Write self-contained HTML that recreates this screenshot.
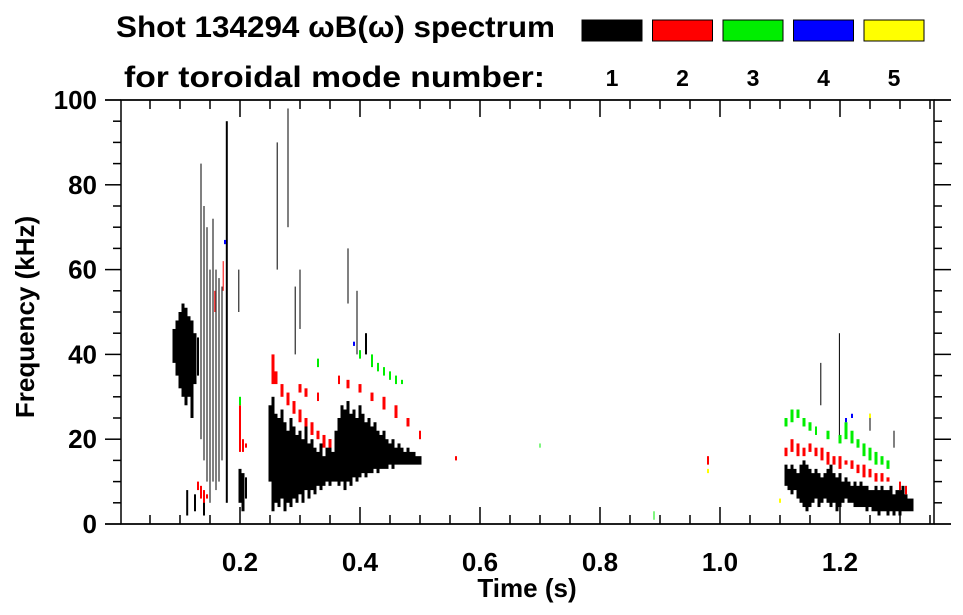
<!DOCTYPE html>
<html><head><meta charset="utf-8"><style>
body{margin:0;background:#fff;}
svg{display:block;font-family:"Liberation Sans",sans-serif;font-weight:bold;}
</style></head><body>
<svg id="chart" width="963" height="615" viewBox="0 0 963 615">
<g>
<text x="116" y="37" font-size="30" textLength="439" lengthAdjust="spacingAndGlyphs">Shot 134294 ωB(ω) spectrum</text>
<text x="124" y="87" font-size="30" textLength="421" lengthAdjust="spacingAndGlyphs">for toroidal mode number:</text>
</g>
<g id="legend"></g>
<g id="marks"></g>
<g id="axes"></g>
<text x="527" y="597" font-size="26" text-anchor="middle">Time (s)</text>
<text transform="translate(34,317) rotate(-90)" font-size="26" text-anchor="middle">Frequency (kHz)</text>
</svg>
<script>
const modeLabels=["1","2","3","4","5"];
const modeColors=["#000000","#ff0000","#00ee00","#0000ff","#ffff00"];
const xTicks=[0.2,0.4,0.6,0.8,1.0,1.2];
const xTickLabels=["0.2","0.4","0.6","0.8","1.0","1.2"];
const yTicks=[0,20,40,60,80,100];
// segments: [time s, fLow kHz, fHigh kHz, width px]
const mode1=[[0.090,38,46,3],[0.095,35,48,3],[0.100,32,50,3],[0.105,30,52,3],[0.110,28,51,3],[0.115,30,49,3],[0.120,25,48,3],[0.125,33,45,3],[0.130,35,44,2],
[0.135,20,85,1],[0.140,15,75,1],[0.145,10,70,1],[0.150,5,60,1],[0.155,10,72,1],[0.160,8,60,1],[0.165,10,58,1],[0.170,15,56,1],[0.178,5,95,2],[0.198,50,60,1],
[0.112,2,8,2],[0.125,3,7,2],[0.140,2,6,2],
[0.200,5,13,3],[0.205,3,12,3],[0.210,6,11,2],
[0.250,10,28,3],[0.255,3,30,3],[0.260,5,26,3],[0.265,4,25,3],[0.270,6,27,3],[0.275,3,24,3],[0.280,5,22,3],[0.285,4,25,3],[0.290,6,23,3],[0.295,5,21,3],[0.300,7,22,3],[0.305,5,20,3],[0.310,8,24,3],[0.315,6,19,3],[0.320,8,20,3],[0.325,7,18,3],[0.330,9,17,3],[0.335,8,19,3],[0.340,9,16,3],[0.345,10,18,3],[0.350,9,20,3],[0.355,10,17,3],[0.360,10,22,3],[0.365,9,25,3],[0.370,10,28,3],[0.375,8,27,3],[0.380,10,29,3],[0.385,9,26,3],[0.390,11,27,3],[0.395,10,25,3],[0.400,11,28,3],[0.405,12,26,3],[0.410,11,24,3],[0.415,12,25,3],[0.420,12,23,3],[0.425,13,24,3],[0.430,12,22,3],[0.435,13,21,3],[0.440,13,22,3],[0.445,13,20,3],[0.450,14,19,3],[0.455,13,20,3],[0.460,14,18,3],[0.465,14,19,3],[0.470,14,18,3],[0.475,14,17,3],[0.480,14,18,3],[0.485,14,17,3],[0.490,14,17,3],[0.495,14,16,3],[0.500,14,16,3],
[0.262,60,90,1],[0.280,70,98,1],[0.292,40,56,1],[0.300,46,60,1],[0.380,52,65,1],[0.395,40,55,1],[0.410,40,45,2],
[1.110,9,14,3],[1.115,8,13,3],[1.120,7,14,3],[1.125,8,13,3],[1.130,6,12,3],[1.135,5,14,3],[1.140,4,15,3],[1.145,3,14,3],[1.150,4,13,3],[1.155,5,12,3],[1.160,6,13,3],[1.165,4,12,3],[1.170,5,11,3],[1.175,6,12,3],[1.180,5,13,3],[1.185,4,14,3],[1.190,5,12,3],[1.195,3,11,3],[1.200,4,12,3],[1.205,5,10,3],[1.210,6,11,3],[1.215,5,10,3],[1.220,5,9,3],[1.225,4,10,3],[1.230,4,9,3],[1.235,4,10,3],[1.240,4,9,3],[1.245,3,9,3],[1.250,4,8,3],[1.255,3,8,3],[1.260,3,9,3],[1.265,2,8,3],[1.270,3,9,3],[1.275,3,8,3],[1.280,2,8,3],[1.285,3,9,3],[1.290,2,7,3],[1.295,3,8,3],[1.300,2,8,3],[1.305,3,9,3],[1.310,3,7,3],[1.315,3,6,3],[1.320,3,6,3],
[1.199,20,45,1],[1.168,28,38,1],[1.250,22,26,1],[1.290,18,22,1]];
const mode2=[[0.130,8,10,2],[0.135,6,9,2],[0.140,5,8,2],[0.145,6,7,2],[0.200,17,28,2],[0.205,17,20,2],[0.210,18,19,2],[0.158,50,55,1],[0.172,55,62,1],
[0.255,33,40,3],[0.260,33,36,3],[0.270,30,33,3],[0.280,28,31,3],[0.290,26,29,3],[0.300,24,27,3],[0.310,23,25,3],[0.320,21,24,3],[0.330,20,22,3],[0.340,18,21,3],[0.350,18,20,3],
[0.300,31,33,3],[0.310,30,32,3],[0.330,29,31,2],[0.365,33,35,2],[0.380,32,34,3],[0.400,31,33,3],[0.420,29,31,3],[0.440,27,30,3],[0.460,25,28,3],[0.480,23,25,3],[0.500,20,22,2],
[0.560,15,16,2],[0.980,14,16,2],
[1.110,16,18,3],[1.120,17,20,3],[1.130,16,19,3],[1.140,16,18,3],[1.150,17,19,3],[1.160,16,18,3],[1.170,15,18,3],[1.180,14,17,3],[1.190,14,16,3],[1.200,13,16,3],[1.210,14,15,3],[1.220,13,15,3],[1.230,12,14,3],[1.240,11,14,3],[1.250,11,13,3],[1.260,10,12,3],[1.270,10,12,3],[1.280,10,11,3],[1.300,8,10,2],[1.310,7,9,2]];
const mode3=[[0.400,39,41,2],[0.420,37,40,2],[0.430,36,38,2],[0.440,35,37,2],[0.450,34,36,2],[0.460,33,35,2],[0.470,33,34,2],[0.330,37,39,2],[0.200,28,30,2],[0.890,1,3,1],[0.700,18,19,1],
[1.110,23,25,3],[1.120,24,27,3],[1.130,25,27,3],[1.140,23,25,3],[1.150,22,24,3],[1.160,21,23,2],[1.180,20,22,3],[1.200,19,21,3],[1.210,20,24,3],[1.220,19,22,3],[1.230,18,20,3],[1.240,16,19,3],[1.250,15,18,3],[1.260,14,17,3],[1.270,14,16,3],[1.280,13,15,3]];
const mode4=[[0.175,66,67,2],[0.390,42,43,2],[1.210,24,25,2],[1.220,25,26,2]];
const mode5=[[1.100,5,6,2],[0.980,12,13,2],[1.250,25,26,2]];
const modes=[mode1,mode2,mode3,mode4,mode5];

const X0=120,PX=600,Y0=524,PY=4.24;
const xs=t=>X0+t*PX, ys=f=>Y0-f*PY;
const NS="http://www.w3.org/2000/svg";
function mk(tag,attrs,parent){const e=document.createElementNS(NS,tag);for(const k in attrs)e.setAttribute(k,attrs[k]);parent.appendChild(e);return e;}

const leg=document.getElementById('legend');
modeLabels.forEach((l,i)=>{
  const x=582+i*70.5;
  const r=mk('rect',{x:x,y:20,width:60,height:21,fill:modeColors[i],stroke:'#000','stroke-width':1},leg);
  
  
  const t=mk('text',{x:x+30,y:86,'font-size':23,'text-anchor':'middle'},leg);
  t.textContent=l;
  
  
});

const marks=document.getElementById('marks');
modes.forEach((m,i)=>{
  m.forEach(s=>{
    const r=mk('rect',{x:xs(s[0])-s[3]/2,y:ys(s[2]),width:s[3],height:Math.max(1,ys(s[1])-ys(s[2])),fill:modeColors[i]},marks);
    
    
  });
});

const ax=document.getElementById('axes');
const st={stroke:'#000','stroke-width':1.5,fill:'none'};
mk('rect',Object.assign({x:121,y:100,width:813,height:424},st),ax);
mk('line',Object.assign({x1:105,y1:524,x2:951,y2:524},st),ax);
mk('line',Object.assign({x1:105,y1:100,x2:951,y2:100},st),ax);
for(let f=0;f<=100;f+=5){
  const y=ys(f),maj=f%20===0;
  mk('line',Object.assign({x1:maj?105:113,y1:y,x2:121,y2:y},st),ax);
  mk('line',Object.assign({x1:934,y1:y,x2:maj?951:942,y2:y},st),ax);
}
for(let k=1;k<=27;k++){
  const t=k*0.05,x=xs(t),maj=k%4===0;
  mk('line',Object.assign({x1:x,y1:524,x2:x,y2:maj?507:515},st),ax);
  mk('line',Object.assign({x1:x,y1:100,x2:x,y2:maj?117:109},st),ax);
}
xTicks.forEach((t,i)=>{
  const e=mk('text',{x:xs(t),y:571,'font-size':26,'text-anchor':'middle'},ax);
  e.textContent=xTickLabels[i];
  
  
});
yTicks.forEach(f=>{
  const e=mk('text',{x:97,y:ys(f)+9,'font-size':26,'text-anchor':'end'},ax);
  e.textContent=String(f);
  
  
});
</script>
</body></html>
